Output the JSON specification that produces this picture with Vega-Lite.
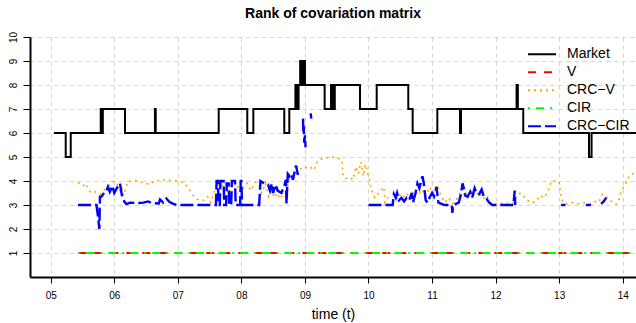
{
  "$schema": "https://vega.github.io/schema/vega-lite/v6.json",
  "width": 606,
  "height": 240,
  "autosize": {"type": "none"},
  "padding": {"left": 30, "top": 37, "right": 0, "bottom": 46},
  "background": "white",
  "config": {
    "view": {"stroke": null},
    "font": "Liberation Sans",
    "axis": {"labelFont": "Liberation Sans", "titleFont": "Liberation Sans"}
  },
  "title": {
    "text": "Rank of covariation matrix",
    "font": "Liberation Sans",
    "fontSize": 14,
    "fontWeight": "bold",
    "color": "black",
    "anchor": "middle",
    "frame": "group",
    "offset": 10
  },
  "data": {
    "values": [
      {"series": "Market", "seg": "m", "t": 5.05, "v": 6},
      {"series": "Market", "seg": "m", "t": 5.236, "v": 5},
      {"series": "Market", "seg": "m", "t": 5.315, "v": 6},
      {"series": "Market", "seg": "m", "t": 5.787, "v": 7},
      {"series": "Market", "seg": "m", "t": 5.80, "v": 6},
      {"series": "Market", "seg": "m", "t": 5.82, "v": 7},
      {"series": "Market", "seg": "m", "t": 6.169, "v": 6},
      {"series": "Market", "seg": "m", "t": 6.64, "v": 7},
      {"series": "Market", "seg": "m", "t": 6.652, "v": 6},
      {"series": "Market", "seg": "m", "t": 7.643, "v": 7},
      {"series": "Market", "seg": "m", "t": 8.093, "v": 6},
      {"series": "Market", "seg": "m", "t": 8.188, "v": 7},
      {"series": "Market", "seg": "m", "t": 8.675, "v": 6},
      {"series": "Market", "seg": "m", "t": 8.754, "v": 7},
      {"series": "Market", "seg": "m", "t": 8.85, "v": 8},
      {"series": "Market", "seg": "m", "t": 8.87, "v": 7},
      {"series": "Market", "seg": "m", "t": 8.90, "v": 8},
      {"series": "Market", "seg": "m", "t": 8.925, "v": 9},
      {"series": "Market", "seg": "m", "t": 8.94, "v": 8},
      {"series": "Market", "seg": "m", "t": 8.95, "v": 9},
      {"series": "Market", "seg": "m", "t": 8.965, "v": 8},
      {"series": "Market", "seg": "m", "t": 8.975, "v": 9},
      {"series": "Market", "seg": "m", "t": 9.0, "v": 8},
      {"series": "Market", "seg": "m", "t": 9.31, "v": 7},
      {"series": "Market", "seg": "m", "t": 9.41, "v": 8},
      {"series": "Market", "seg": "m", "t": 9.44, "v": 7},
      {"series": "Market", "seg": "m", "t": 9.47, "v": 8},
      {"series": "Market", "seg": "m", "t": 9.866, "v": 7},
      {"series": "Market", "seg": "m", "t": 10.129, "v": 8},
      {"series": "Market", "seg": "m", "t": 10.626, "v": 7},
      {"series": "Market", "seg": "m", "t": 10.695, "v": 6},
      {"series": "Market", "seg": "m", "t": 11.083, "v": 7},
      {"series": "Market", "seg": "m", "t": 11.44, "v": 6},
      {"series": "Market", "seg": "m", "t": 11.455, "v": 7},
      {"series": "Market", "seg": "m", "t": 12.33, "v": 8},
      {"series": "Market", "seg": "m", "t": 12.35, "v": 7},
      {"series": "Market", "seg": "m", "t": 12.435, "v": 6},
      {"series": "Market", "seg": "m", "t": 13.47, "v": 5},
      {"series": "Market", "seg": "m", "t": 13.51, "v": 6},
      {"series": "Market", "seg": "m", "t": 14.21, "v": 6},

      {"series": "V", "seg": "v", "t": 5.434, "v": 1},
      {"series": "V", "seg": "v", "t": 14.21, "v": 1},
      {"series": "CIR", "seg": "c", "t": 5.434, "v": 1},
      {"series": "CIR", "seg": "c", "t": 14.21, "v": 1},

      {"series": "CRC−V", "seg": "o", "t": 5.43, "v": 3.95},
      {"series": "CRC−V", "seg": "o", "t": 5.47, "v": 3.85},
      {"series": "CRC−V", "seg": "o", "t": 5.51, "v": 3.8},
      {"series": "CRC−V", "seg": "o", "t": 5.55, "v": 3.9},
      {"series": "CRC−V", "seg": "o", "t": 5.58, "v": 3.7},
      {"series": "CRC−V", "seg": "o", "t": 5.62, "v": 3.55},
      {"series": "CRC−V", "seg": "o", "t": 5.66, "v": 3.5},
      {"series": "CRC−V", "seg": "o", "t": 5.70, "v": 3.55},
      {"series": "CRC−V", "seg": "o", "t": 5.74, "v": 3.5},
      {"series": "CRC−V", "seg": "o", "t": 5.78, "v": 3.45},
      {"series": "CRC−V", "seg": "o", "t": 5.83, "v": 3.6},
      {"series": "CRC−V", "seg": "o", "t": 5.88, "v": 3.75},
      {"series": "CRC−V", "seg": "o", "t": 5.93, "v": 3.85},
      {"series": "CRC−V", "seg": "o", "t": 5.97, "v": 3.95},
      {"series": "CRC−V", "seg": "o", "t": 6.01, "v": 4.0},
      {"series": "CRC−V", "seg": "o", "t": 6.05, "v": 3.85},
      {"series": "CRC−V", "seg": "o", "t": 6.09, "v": 3.6},
      {"series": "CRC−V", "seg": "o", "t": 6.12, "v": 3.75},
      {"series": "CRC−V", "seg": "o", "t": 6.15, "v": 3.4},
      {"series": "CRC−V", "seg": "o", "t": 6.18, "v": 3.7},
      {"series": "CRC−V", "seg": "o", "t": 6.22, "v": 4.0},
      {"series": "CRC−V", "seg": "o", "t": 6.28, "v": 3.98},
      {"series": "CRC−V", "seg": "o", "t": 6.35, "v": 4.02},
      {"series": "CRC−V", "seg": "o", "t": 6.42, "v": 3.95},
      {"series": "CRC−V", "seg": "o", "t": 6.5, "v": 3.9},
      {"series": "CRC−V", "seg": "o", "t": 6.56, "v": 3.85},
      {"series": "CRC−V", "seg": "o", "t": 6.62, "v": 3.98},
      {"series": "CRC−V", "seg": "o", "t": 6.7, "v": 4.02},
      {"series": "CRC−V", "seg": "o", "t": 6.8, "v": 4.05},
      {"series": "CRC−V", "seg": "o", "t": 6.9, "v": 4.02},
      {"series": "CRC−V", "seg": "o", "t": 7.0, "v": 4.0},
      {"series": "CRC−V", "seg": "o", "t": 7.08, "v": 3.95},
      {"series": "CRC−V", "seg": "o", "t": 7.14, "v": 3.8},
      {"series": "CRC−V", "seg": "o", "t": 7.19, "v": 3.6},
      {"series": "CRC−V", "seg": "o", "t": 7.24, "v": 3.4},
      {"series": "CRC−V", "seg": "o", "t": 7.29, "v": 3.25},
      {"series": "CRC−V", "seg": "o", "t": 7.35, "v": 3.2},
      {"series": "CRC−V", "seg": "o", "t": 7.42, "v": 3.2},
      {"series": "CRC−V", "seg": "o", "t": 7.47, "v": 3.35},
      {"series": "CRC−V", "seg": "o", "t": 7.52, "v": 3.1},
      {"series": "CRC−V", "seg": "o", "t": 7.58, "v": 3.6},
      {"series": "CRC−V", "seg": "o", "t": 7.62, "v": 3.9},
      {"series": "CRC−V", "seg": "o", "t": 7.68, "v": 3.7},
      {"series": "CRC−V", "seg": "o", "t": 7.74, "v": 3.95},
      {"series": "CRC−V", "seg": "o", "t": 7.8, "v": 3.5},
      {"series": "CRC−V", "seg": "o", "t": 7.86, "v": 3.85},
      {"series": "CRC−V", "seg": "o", "t": 7.92, "v": 3.6},
      {"series": "CRC−V", "seg": "o", "t": 7.97, "v": 3.95},
      {"series": "CRC−V", "seg": "o", "t": 8.03, "v": 3.7},
      {"series": "CRC−V", "seg": "o", "t": 8.09, "v": 3.9},
      {"series": "CRC−V", "seg": "o", "t": 8.15, "v": 3.6},
      {"series": "CRC−V", "seg": "o", "t": 8.22, "v": 3.95},
      {"series": "CRC−V", "seg": "o", "t": 8.28, "v": 3.8},
      {"series": "CRC−V", "seg": "o", "t": 8.32, "v": 3.5},
      {"series": "CRC−V", "seg": "o", "t": 8.38, "v": 3.9},
      {"series": "CRC−V", "seg": "o", "t": 8.43, "v": 3.35},
      {"series": "CRC−V", "seg": "o", "t": 8.48, "v": 3.6},
      {"series": "CRC−V", "seg": "o", "t": 8.52, "v": 3.3},
      {"series": "CRC−V", "seg": "o", "t": 8.56, "v": 3.5},
      {"series": "CRC−V", "seg": "o", "t": 8.61, "v": 3.25},
      {"series": "CRC−V", "seg": "o", "t": 8.66, "v": 3.45},
      {"series": "CRC−V", "seg": "o", "t": 8.70, "v": 3.35},
      {"series": "CRC−V", "seg": "o", "t": 8.74, "v": 4.0},
      {"series": "CRC−V", "seg": "o", "t": 8.78, "v": 4.2},
      {"series": "CRC−V", "seg": "o", "t": 8.82, "v": 4.0},
      {"series": "CRC−V", "seg": "o", "t": 8.86, "v": 4.3},
      {"series": "CRC−V", "seg": "o", "t": 8.9, "v": 4.35},
      {"series": "CRC−V", "seg": "o", "t": 8.95, "v": 4.55},
      {"series": "CRC−V", "seg": "o", "t": 9.0, "v": 4.6},
      {"series": "CRC−V", "seg": "o", "t": 9.05, "v": 4.5},
      {"series": "CRC−V", "seg": "o", "t": 9.1, "v": 4.55},
      {"series": "CRC−V", "seg": "o", "t": 9.14, "v": 4.45},
      {"series": "CRC−V", "seg": "o", "t": 9.2, "v": 4.85},
      {"series": "CRC−V", "seg": "o", "t": 9.3, "v": 4.95},
      {"series": "CRC−V", "seg": "o", "t": 9.42, "v": 5.0},
      {"series": "CRC−V", "seg": "o", "t": 9.52, "v": 4.95},
      {"series": "CRC−V", "seg": "o", "t": 9.58, "v": 4.9},
      {"series": "CRC−V", "seg": "o", "t": 9.6, "v": 4.2},
      {"series": "CRC−V", "seg": "o", "t": 9.64, "v": 4.1},
      {"series": "CRC−V", "seg": "o", "t": 9.7, "v": 4.15},
      {"series": "CRC−V", "seg": "o", "t": 9.76, "v": 4.05},
      {"series": "CRC−V", "seg": "o", "t": 9.8, "v": 4.6},
      {"series": "CRC−V", "seg": "o", "t": 9.84, "v": 4.3},
      {"series": "CRC−V", "seg": "o", "t": 9.88, "v": 4.8},
      {"series": "CRC−V", "seg": "o", "t": 9.92, "v": 4.2},
      {"series": "CRC−V", "seg": "o", "t": 9.95, "v": 4.7},
      {"series": "CRC−V", "seg": "o", "t": 9.98, "v": 4.4},
      {"series": "CRC−V", "seg": "o", "t": 10.02, "v": 4.0},
      {"series": "CRC−V", "seg": "o", "t": 10.05, "v": 3.6},
      {"series": "CRC−V", "seg": "o", "t": 10.1, "v": 3.3},
      {"series": "CRC−V", "seg": "o", "t": 10.24, "v": 3.75},
      {"series": "CRC−V", "seg": "o", "t": 10.26, "v": 3.1},
      {"series": "CRC−V", "seg": "o", "t": 10.3, "v": 3.3},
      {"series": "CRC−V", "seg": "o", "t": 10.36, "v": 3.2},
      {"series": "CRC−V", "seg": "o", "t": 10.42, "v": 3.15},
      {"series": "CRC−V", "seg": "o", "t": 10.48, "v": 3.45},
      {"series": "CRC−V", "seg": "o", "t": 10.54, "v": 3.3},
      {"series": "CRC−V", "seg": "o", "t": 10.6, "v": 3.5},
      {"series": "CRC−V", "seg": "o", "t": 10.66, "v": 3.25},
      {"series": "CRC−V", "seg": "o", "t": 10.72, "v": 3.6},
      {"series": "CRC−V", "seg": "o", "t": 10.78, "v": 3.4},
      {"series": "CRC−V", "seg": "o", "t": 10.84, "v": 3.65},
      {"series": "CRC−V", "seg": "o", "t": 10.9, "v": 3.35},
      {"series": "CRC−V", "seg": "o", "t": 10.96, "v": 3.75},
      {"series": "CRC−V", "seg": "o", "t": 11.02, "v": 3.5},
      {"series": "CRC−V", "seg": "o", "t": 11.08, "v": 3.85},
      {"series": "CRC−V", "seg": "o", "t": 11.14, "v": 3.4},
      {"series": "CRC−V", "seg": "o", "t": 11.2, "v": 3.1},
      {"series": "CRC−V", "seg": "o", "t": 11.26, "v": 3.3},
      {"series": "CRC−V", "seg": "o", "t": 11.32, "v": 3.05},
      {"series": "CRC−V", "seg": "o", "t": 11.38, "v": 3.2},
      {"series": "CRC−V", "seg": "o", "t": 11.44, "v": 3.5},
      {"series": "CRC−V", "seg": "o", "t": 11.5, "v": 3.7},
      {"series": "CRC−V", "seg": "o", "t": 11.56, "v": 3.3},
      {"series": "CRC−V", "seg": "o", "t": 11.62, "v": 3.6},
      {"series": "CRC−V", "seg": "o", "t": 11.68, "v": 3.35},
      {"series": "CRC−V", "seg": "o", "t": 11.74, "v": 3.55},
      {"series": "CRC−V", "seg": "o", "t": 11.8, "v": 3.25},
      {"series": "CRC−V", "seg": "o", "t": 11.86, "v": 3.4},
      {"series": "CRC−V", "seg": "o", "t": 11.92, "v": 3.1},
      {"series": "CRC−V", "seg": "o", "t": 11.98, "v": 3.05},
      {"series": "CRC−V", "seg": "o", "t": 12.05, "v": 3.0},
      {"series": "CRC−V", "seg": "o", "t": 12.12, "v": 3.1},
      {"series": "CRC−V", "seg": "o", "t": 12.2, "v": 3.05},
      {"series": "CRC−V", "seg": "o", "t": 12.28, "v": 3.1},
      {"series": "CRC−V", "seg": "o", "t": 12.34, "v": 3.45},
      {"series": "CRC−V", "seg": "o", "t": 12.4, "v": 3.5},
      {"series": "CRC−V", "seg": "o", "t": 12.46, "v": 3.3},
      {"series": "CRC−V", "seg": "o", "t": 12.52, "v": 3.15},
      {"series": "CRC−V", "seg": "o", "t": 12.58, "v": 3.1},
      {"series": "CRC−V", "seg": "o", "t": 12.64, "v": 3.15},
      {"series": "CRC−V", "seg": "o", "t": 12.7, "v": 3.4},
      {"series": "CRC−V", "seg": "o", "t": 12.76, "v": 3.3},
      {"series": "CRC−V", "seg": "o", "t": 12.82, "v": 3.55},
      {"series": "CRC−V", "seg": "o", "t": 12.88, "v": 4.0},
      {"series": "CRC−V", "seg": "o", "t": 12.94, "v": 4.0},
      {"series": "CRC−V", "seg": "o", "t": 13.0, "v": 3.98},
      {"series": "CRC−V", "seg": "o", "t": 13.03, "v": 3.3},
      {"series": "CRC−V", "seg": "o", "t": 13.06, "v": 3.1},
      {"series": "CRC−V", "seg": "o", "t": 13.12, "v": 3.05},
      {"series": "CRC−V", "seg": "o", "t": 13.2, "v": 3.1},
      {"series": "CRC−V", "seg": "o", "t": 13.3, "v": 3.05},
      {"series": "CRC−V", "seg": "o", "t": 13.4, "v": 3.1},
      {"series": "CRC−V", "seg": "o", "t": 13.5, "v": 3.05},
      {"series": "CRC−V", "seg": "o", "t": 13.56, "v": 3.15},
      {"series": "CRC−V", "seg": "o", "t": 13.62, "v": 3.1},
      {"series": "CRC−V", "seg": "o", "t": 13.68, "v": 3.45},
      {"series": "CRC−V", "seg": "o", "t": 13.74, "v": 3.35},
      {"series": "CRC−V", "seg": "o", "t": 13.8, "v": 3.2},
      {"series": "CRC−V", "seg": "o", "t": 13.86, "v": 3.05},
      {"series": "CRC−V", "seg": "o", "t": 13.92, "v": 3.05},
      {"series": "CRC−V", "seg": "o", "t": 13.98, "v": 3.6},
      {"series": "CRC−V", "seg": "o", "t": 14.04, "v": 3.85},
      {"series": "CRC−V", "seg": "o", "t": 14.1, "v": 4.2},
      {"series": "CRC−V", "seg": "o", "t": 14.15, "v": 4.3},
      {"series": "CRC−V", "seg": "o", "t": 14.21, "v": 4.3},

      {"series": "CRC−CIR", "seg": "a", "t": 5.43, "v": 3.0},
      {"series": "CRC−CIR", "seg": "a", "t": 5.67, "v": 3.0},
      {"series": "CRC−CIR", "seg": "a", "t": 5.72, "v": 3.0},
      {"series": "CRC−CIR", "seg": "a", "t": 5.745, "v": 2.5},
      {"series": "CRC−CIR", "seg": "a", "t": 5.765, "v": 2.0},
      {"series": "CRC−CIR", "seg": "a", "t": 5.775, "v": 3.35},
      {"series": "CRC−CIR", "seg": "a", "t": 5.8, "v": 3.35},
      {"series": "CRC−CIR", "seg": "a", "t": 5.85, "v": 3.55},
      {"series": "CRC−CIR", "seg": "a", "t": 5.88, "v": 3.6},
      {"series": "CRC−CIR", "seg": "a", "t": 5.9, "v": 3.75},
      {"series": "CRC−CIR", "seg": "a", "t": 5.93, "v": 3.55},
      {"series": "CRC−CIR", "seg": "a", "t": 5.97, "v": 3.8},
      {"series": "CRC−CIR", "seg": "a", "t": 6.0, "v": 3.5},
      {"series": "CRC−CIR", "seg": "a", "t": 6.04, "v": 3.7},
      {"series": "CRC−CIR", "seg": "a", "t": 6.09, "v": 3.9},
      {"series": "CRC−CIR", "seg": "a", "t": 6.12, "v": 3.4},
      {"series": "CRC−CIR", "seg": "a", "t": 6.16, "v": 3.13},
      {"series": "CRC−CIR", "seg": "a", "t": 6.19, "v": 3.04},
      {"series": "CRC−CIR", "seg": "a", "t": 6.25, "v": 3.1},
      {"series": "CRC−CIR", "seg": "a", "t": 6.35, "v": 3.08},
      {"series": "CRC−CIR", "seg": "a", "t": 6.46, "v": 3.1},
      {"series": "CRC−CIR", "seg": "a", "t": 6.53, "v": 3.15},
      {"series": "CRC−CIR", "seg": "a", "t": 6.6, "v": 3.08},
      {"series": "CRC−CIR", "seg": "a", "t": 6.7, "v": 3.06},
      {"series": "CRC−CIR", "seg": "a", "t": 6.72, "v": 3.23},
      {"series": "CRC−CIR", "seg": "a", "t": 6.77, "v": 3.1},
      {"series": "CRC−CIR", "seg": "a", "t": 6.82, "v": 3.27},
      {"series": "CRC−CIR", "seg": "a", "t": 6.87, "v": 3.12},
      {"series": "CRC−CIR", "seg": "a", "t": 6.93, "v": 3.05},
      {"series": "CRC−CIR", "seg": "a", "t": 6.98, "v": 3.0},
      {"series": "CRC−CIR", "seg": "a", "t": 7.6, "v": 3.0},
      {"series": "CRC−CIR", "seg": "a", "t": 7.61, "v": 4.0},
      {"series": "CRC−CIR", "seg": "a", "t": 7.63, "v": 4.0},
      {"series": "CRC−CIR", "seg": "a", "t": 7.64, "v": 3.0},
      {"series": "CRC−CIR", "seg": "a", "t": 7.66, "v": 3.0},
      {"series": "CRC−CIR", "seg": "a", "t": 7.67, "v": 4.0},
      {"series": "CRC−CIR", "seg": "a", "t": 7.72, "v": 4.0},
      {"series": "CRC−CIR", "seg": "a", "t": 7.73, "v": 3.0},
      {"series": "CRC−CIR", "seg": "a", "t": 7.76, "v": 3.0},
      {"series": "CRC−CIR", "seg": "a", "t": 7.77, "v": 3.9},
      {"series": "CRC−CIR", "seg": "a", "t": 7.80, "v": 3.9},
      {"series": "CRC−CIR", "seg": "a", "t": 7.81, "v": 3.0},
      {"series": "CRC−CIR", "seg": "a", "t": 7.84, "v": 3.0},
      {"series": "CRC−CIR", "seg": "a", "t": 7.85, "v": 4.0},
      {"series": "CRC−CIR", "seg": "a", "t": 7.9, "v": 4.0},
      {"series": "CRC−CIR", "seg": "a", "t": 7.91, "v": 3.0},
      {"series": "CRC−CIR", "seg": "a", "t": 7.98, "v": 3.0},
      {"series": "CRC−CIR", "seg": "a", "t": 7.99, "v": 4.0},
      {"series": "CRC−CIR", "seg": "a", "t": 8.0, "v": 4.0},
      {"series": "CRC−CIR", "seg": "a", "t": 8.01, "v": 3.0},
      {"series": "CRC−CIR", "seg": "a", "t": 8.28, "v": 3.0},
      {"series": "CRC−CIR", "seg": "a", "t": 8.3, "v": 4.0},
      {"series": "CRC−CIR", "seg": "a", "t": 8.36, "v": 3.9},
      {"series": "CRC−CIR", "seg": "a", "t": 8.42, "v": 3.85},
      {"series": "CRC−CIR", "seg": "a", "t": 8.45, "v": 3.6},
      {"series": "CRC−CIR", "seg": "a", "t": 8.48, "v": 3.9},
      {"series": "CRC−CIR", "seg": "a", "t": 8.5, "v": 3.5},
      {"series": "CRC−CIR", "seg": "a", "t": 8.54, "v": 3.85},
      {"series": "CRC−CIR", "seg": "a", "t": 8.57, "v": 3.6},
      {"series": "CRC−CIR", "seg": "a", "t": 8.63, "v": 3.5},
      {"series": "CRC−CIR", "seg": "a", "t": 8.68, "v": 3.85},
      {"series": "CRC−CIR", "seg": "a", "t": 8.7, "v": 4.05},
      {"series": "CRC−CIR", "seg": "a", "t": 8.71, "v": 3.05},
      {"series": "CRC−CIR", "seg": "a", "t": 8.73, "v": 4.3},
      {"series": "CRC−CIR", "seg": "a", "t": 8.76, "v": 4.2},
      {"series": "CRC−CIR", "seg": "a", "t": 8.79, "v": 4.3},
      {"series": "CRC−CIR", "seg": "a", "t": 8.81, "v": 4.05},
      {"series": "CRC−CIR", "seg": "a", "t": 8.84, "v": 4.4},
      {"series": "CRC−CIR", "seg": "a", "t": 8.86, "v": 4.65},
      {"series": "CRC−CIR", "seg": "a", "t": 8.89, "v": 4.25},
      {"series": "CRC−CIR", "seg": "b", "t": 8.97, "v": 6.6},
      {"series": "CRC−CIR", "seg": "b", "t": 8.975, "v": 6.0},
      {"series": "CRC−CIR", "seg": "b", "t": 8.98, "v": 6.3},
      {"series": "CRC−CIR", "seg": "b", "t": 8.99, "v": 5.6},
      {"series": "CRC−CIR", "seg": "b", "t": 9.0, "v": 5.9},
      {"series": "CRC−CIR", "seg": "b", "t": 9.01, "v": 5.4},
      {"series": "CRC−CIR", "seg": "c", "t": 9.09, "v": 6.82},
      {"series": "CRC−CIR", "seg": "c", "t": 9.1, "v": 6.6},
      {"series": "CRC−CIR", "seg": "d", "t": 10.0, "v": 3.0},
      {"series": "CRC−CIR", "seg": "d", "t": 10.38, "v": 3.0},
      {"series": "CRC−CIR", "seg": "d", "t": 10.4, "v": 3.45},
      {"series": "CRC−CIR", "seg": "d", "t": 10.43, "v": 3.3},
      {"series": "CRC−CIR", "seg": "d", "t": 10.45, "v": 3.5},
      {"series": "CRC−CIR", "seg": "d", "t": 10.48, "v": 3.2},
      {"series": "CRC−CIR", "seg": "d", "t": 10.52, "v": 3.3},
      {"series": "CRC−CIR", "seg": "d", "t": 10.56, "v": 3.15},
      {"series": "CRC−CIR", "seg": "d", "t": 10.6, "v": 3.3},
      {"series": "CRC−CIR", "seg": "d", "t": 10.64, "v": 3.2},
      {"series": "CRC−CIR", "seg": "d", "t": 10.68, "v": 3.5},
      {"series": "CRC−CIR", "seg": "d", "t": 10.7, "v": 3.1},
      {"series": "CRC−CIR", "seg": "d", "t": 10.74, "v": 3.5},
      {"series": "CRC−CIR", "seg": "d", "t": 10.77, "v": 3.9},
      {"series": "CRC−CIR", "seg": "d", "t": 10.8, "v": 3.7},
      {"series": "CRC−CIR", "seg": "d", "t": 10.85, "v": 4.2},
      {"series": "CRC−CIR", "seg": "d", "t": 10.87, "v": 3.9},
      {"series": "CRC−CIR", "seg": "d", "t": 10.9, "v": 3.2},
      {"series": "CRC−CIR", "seg": "d", "t": 10.93, "v": 3.1},
      {"series": "CRC−CIR", "seg": "d", "t": 10.96, "v": 3.3},
      {"series": "CRC−CIR", "seg": "d", "t": 11.0, "v": 3.5},
      {"series": "CRC−CIR", "seg": "d", "t": 11.03, "v": 3.35},
      {"series": "CRC−CIR", "seg": "d", "t": 11.07, "v": 3.75},
      {"series": "CRC−CIR", "seg": "d", "t": 11.1, "v": 3.1},
      {"series": "CRC−CIR", "seg": "d", "t": 11.15, "v": 3.05},
      {"series": "CRC−CIR", "seg": "d", "t": 11.2, "v": 3.0},
      {"series": "CRC−CIR", "seg": "d", "t": 11.31, "v": 3.0},
      {"series": "CRC−CIR", "seg": "d", "t": 11.32, "v": 2.67},
      {"series": "CRC−CIR", "seg": "d", "t": 11.33, "v": 3.0},
      {"series": "CRC−CIR", "seg": "d", "t": 11.42, "v": 3.1},
      {"series": "CRC−CIR", "seg": "d", "t": 11.45, "v": 3.4},
      {"series": "CRC−CIR", "seg": "d", "t": 11.48, "v": 3.9},
      {"series": "CRC−CIR", "seg": "d", "t": 11.5, "v": 3.7},
      {"series": "CRC−CIR", "seg": "d", "t": 11.52, "v": 3.4},
      {"series": "CRC−CIR", "seg": "d", "t": 11.56, "v": 3.35},
      {"series": "CRC−CIR", "seg": "d", "t": 11.6, "v": 3.55},
      {"series": "CRC−CIR", "seg": "d", "t": 11.63, "v": 3.3},
      {"series": "CRC−CIR", "seg": "d", "t": 11.67, "v": 3.7},
      {"series": "CRC−CIR", "seg": "d", "t": 11.7, "v": 3.5},
      {"series": "CRC−CIR", "seg": "d", "t": 11.74, "v": 3.45},
      {"series": "CRC−CIR", "seg": "d", "t": 11.78, "v": 3.65},
      {"series": "CRC−CIR", "seg": "d", "t": 11.82, "v": 3.3},
      {"series": "CRC−CIR", "seg": "d", "t": 11.86, "v": 3.25},
      {"series": "CRC−CIR", "seg": "d", "t": 11.9, "v": 3.1},
      {"series": "CRC−CIR", "seg": "d", "t": 11.95, "v": 3.0},
      {"series": "CRC−CIR", "seg": "d", "t": 12.28, "v": 3.0},
      {"series": "CRC−CIR", "seg": "d", "t": 12.3, "v": 3.6},
      {"series": "CRC−CIR", "seg": "d", "t": 12.31, "v": 3.0},
      {"series": "CRC−CIR", "seg": "e", "t": 13.03, "v": 3.0},
      {"series": "CRC−CIR", "seg": "e", "t": 13.1, "v": 3.0},
      {"series": "CRC−CIR", "seg": "f", "t": 13.42, "v": 3.0},
      {"series": "CRC−CIR", "seg": "f", "t": 13.5, "v": 3.0},
      {"series": "CRC−CIR", "seg": "g", "t": 13.66, "v": 3.05},
      {"series": "CRC−CIR", "seg": "g", "t": 13.7, "v": 3.15},
      {"series": "CRC−CIR", "seg": "g", "t": 13.74, "v": 3.3}
    ]
  },
  "encoding": {
    "x": {
      "field": "t",
      "type": "quantitative",
      "scale": {"domain": [4.674, 14.209], "nice": false, "zero": false},
      "axis": {
        "title": "time (t)",
        "titleFontSize": 14,
        "titleFontWeight": "normal",
        "titleColor": "black",
        "titlePadding": 7,
        "values": [5, 6, 7, 8, 9, 10, 11, 12, 13, 14],
        "labelExpr": "datum.value < 10 ? '0' + datum.value : '' + datum.value",
        "labelFontSize": 10,
        "labelColor": "black",
        "labelPadding": 7,
        "labelFlush": false,
        "tickSize": 6,
        "tickColor": "black",
        "tickWidth": 1,
        "domainColor": "black",
        "domainWidth": 2,
        "grid": true,
        "gridColor": "#d3d3d3",
        "gridDash": [4, 4],
        "gridWidth": 1
      }
    },
    "y": {
      "field": "v",
      "type": "quantitative",
      "scale": {"domain": [0, 10], "nice": false},
      "axis": {
        "title": null,
        "values": [1, 2, 3, 4, 5, 6, 7, 8, 9, 10],
        "labelAngle": -90,
        "labelAlign": "center",
        "labelBaseline": "bottom",
        "labelFontSize": 10,
        "labelColor": "black",
        "labelPadding": 5,
        "labelFlush": false,
        "labelOverlap": false,
        "tickSize": 7,
        "tickColor": "black",
        "tickWidth": 1,
        "domainColor": "black",
        "domainWidth": 2,
        "grid": true,
        "gridColor": "#d3d3d3",
        "gridDash": [4, 4],
        "gridWidth": 1
      }
    },
    "color": {
      "field": "series",
      "type": "nominal",
      "scale": {
        "domain": ["Market", "V", "CRC−V", "CIR", "CRC−CIR"],
        "range": ["#000000", "#ff0000", "#ffa500", "#00ff00", "#0000ff"]
      },
      "legend": {
        "title": null,
        "orient": "none",
        "legendX": 497,
        "legendY": 8.7,
        "padding": 0,
        "labelFont": "Liberation Sans",
        "labelFontSize": 14,
        "labelColor": "black",
        "labelOffset": 10,
        "symbolType": "stroke",
        "symbolSize": 784,
        "symbolStrokeWidth": 2,
        "clipHeight": 17.3,
        "rowPadding": 0
      }
    },
    "strokeDash": {
      "field": "series",
      "type": "nominal",
      "scale": {
        "domain": ["Market", "V", "CRC−V", "CIR", "CRC−CIR"],
        "range": [[1, 0], [8, 8], [2, 4], [2, 6, 8, 6], [13, 4]]
      },
      "legend": null
    },
    "detail": {"field": "seg", "type": "nominal"}
  },
  "layer": [
    {
      "transform": [{"filter": "datum.series === 'Market'"}],
      "mark": {"type": "line", "interpolate": "step-after", "strokeWidth": 2, "clip": true}
    },
    {
      "transform": [{"filter": "datum.series === 'V'"}],
      "mark": {"type": "line", "strokeWidth": 2, "clip": true}
    },
    {
      "transform": [{"filter": "datum.series === 'CRC−V'"}],
      "mark": {"type": "line", "strokeWidth": 1.6, "clip": true}
    },
    {
      "transform": [{"filter": "datum.series === 'CIR'"}],
      "mark": {"type": "line", "strokeWidth": 2, "clip": true}
    },
    {
      "transform": [{"filter": "datum.series === 'CRC−CIR'"}],
      "mark": {"type": "line", "strokeWidth": 2.4, "clip": true}
    }
  ]
}
